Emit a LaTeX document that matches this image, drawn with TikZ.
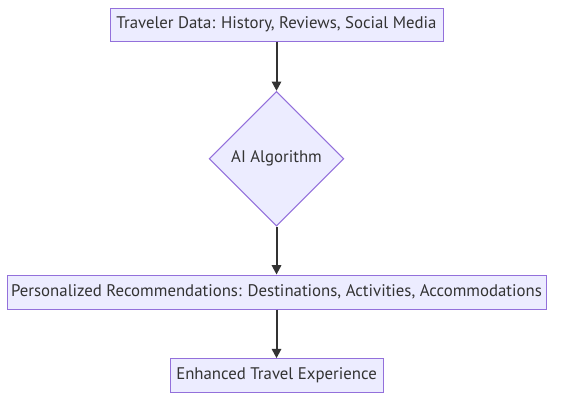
\documentclass[tikz,border=0pt]{standalone}
\usepackage{fontspec}
\setmainfont{PT Sans}
\usepackage{tikz}
\usetikzlibrary{shapes.geometric, arrows.meta, positioning}
\definecolor{cFill}{HTML}{ECECFF}
\definecolor{cBorder}{HTML}{9370DB}
\definecolor{cLine}{HTML}{333333}
\tikzset{
	process/.style ={rectangle, minimum height=25.5pt, inner sep=0pt, text centered, draw=cBorder, line width=0.75pt, fill=cFill, text=cLine, font=\fontsize{12.6}{14}\selectfont},
	decision/.style={diamond, shape aspect=1, minimum size=101pt, inner sep=0pt, text centered, draw=cBorder, line width=0.75pt, fill=cFill, text=cLine, font=\fontsize{12.6}{14}\selectfont},
	flowarrow/.style={-{Triangle[length=7pt, width=7pt]}, line width=1.5pt, draw=cLine},
}
\begin{document}
\begin{tikzpicture}
	\useasboundingbox (0,0) rectangle (421.5pt,-303.75pt);
	\node[process, minimum width=249.75pt, minimum height=24.75pt] (data) at (207.4pt,-18.4pt) {Traveler Data: History, Reviews, Social Media};
	\node[decision, below=37pt of data] (algo) {AI Algorithm};
	\node[process, minimum width=404.25pt, below=36pt of algo] (recs) {Personalized Recommendations: Destinations, Activities, Accommodations};
	\node[process, minimum width=159.75pt, below=36.5pt of recs] (exp) {Enhanced Travel Experience};
	\draw[flowarrow] (data) -- (algo);
	\draw[flowarrow] (algo) -- (recs);
	\draw[flowarrow] (recs) -- (exp);
\end{tikzpicture}
\end{document}
